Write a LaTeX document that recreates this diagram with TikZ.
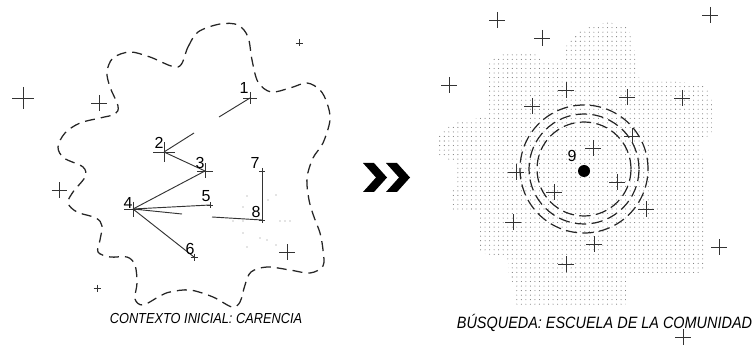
\documentclass[tikz,border=0pt]{standalone}
\usepackage{fontspec}
\setmainfont{Liberation Sans}
\newfontfamily\capfont[FakeStretch=0.88]{Liberation Sans}
\usetikzlibrary{patterns.meta}
\newcommand\plusmark[2]{\draw[crossline] (#1) +(-#2,0) -- +(#2,0) (#1) +(0,-#2) -- +(0,#2);}
\begin{document}
\begin{tikzpicture}[x=0.75pt,y=-0.75pt,
  crossline/.style={draw=black!80, line width=0.7pt},
  link/.style={draw=black!80, line width=0.7pt},
  blobline/.style={draw=black!85, line width=0.95pt, dash pattern=on 7.5pt off 4.5pt},
  ring/.style={draw=black!85, line width=0.9pt, dash pattern=on 8.5pt off 4pt},
  num/.style={font=\fontsize{12}{12}\selectfont, inner sep=0pt, text=black},
  capt/.style={inner sep=0pt, anchor=base, text=black},
  faint/.style={fill=black!45},
  chev/.style={fill=black, draw=none}]
\useasboundingbox (0,0) rectangle (755,345);

% ---------- left: dashed blob ----------
\draw[blobline] plot[smooth cycle, tension=0.55] coordinates {
 (178,67) (188,47) (198,32) (220,24) (238,25) (248,37) (252,60) (258,82)
 (271,92) (290,88) (307,83) (320,90) (327,103) (330,120) (323,143) (313,158)
 (307,178) (309,200) (314,217) (320,233) (323,250) (323,266) (310,273)
 (290,270) (267,267) (251,272) (245,285) (240,302) (232,307) (213,297)
 (190,290) (170,292) (160,296) (143,305) (135,299) (137,283) (135,265)
 (127,257) (110,257) (98,252) (100,240) (102,226) (96,218) (77,212)
 (68,203) (73,192) (85,177) (83,167) (64,158) (58,147) (65,133) (80,123)
 (100,118) (115,114) (118,106) (110,87) (107,72) (113,58) (130,52) (150,57)};

% free crosses on the left
\plusmark{23,98}{11}
\plusmark{99,103}{8}
\plusmark{299,43}{3.5}
\plusmark{59,190}{7.5}
\plusmark{97,288}{3.5}
\plusmark{287,252}{8}

% numbered points
\coordinate (p1) at (250,98);
\coordinate (p2) at (164,152);
\coordinate (p3) at (205,171);
\coordinate (p4) at (133,209);
\coordinate (p5) at (210,205);
\coordinate (p6) at (194,257);
\coordinate (p7) at (262,171);
\coordinate (p8) at (262,220);
\coordinate (e1) at (219,117);
\coordinate (e2) at (194,133);
\coordinate (e4) at (182,214);
\coordinate (e8) at (212,217);

\draw[crossline] (p1) +(-7,0) -- +(7,0) (p1) +(0,-6) -- +(0,6);
\draw[crossline] (p2) +(-11,0) -- +(11,0) (p2) +(0,-10) -- +(0,10);
\draw[crossline] (p3) +(-8,0) -- +(8,0) (p3) +(0,-7.5) -- +(0,7.5);
\draw[crossline] (p4) +(-9,0) -- +(9,0) (p4) +(0,-7.5) -- +(0,7.5);
\draw[crossline] (p5) +(-3,0) -- +(3,0) (p5) +(0,-3) -- +(0,3);
\draw[crossline] (p6) +(-3.5,0) -- +(3.5,0) (p6) +(0,-3.5) -- +(0,3.5);
\draw[crossline] (p7) +(-3,0) -- +(3,0) (p7) +(0,-3) -- +(0,3);
\draw[crossline] (p8) +(-3,0) -- +(3,0) (p8) +(0,-3) -- +(0,3);

\draw[link] (p1) -- (e1);
\draw[link] (p2) -- (e2);
\draw[link] (p2) -- (p3);
\draw[link] (p4) -- (p3);
\draw[link] (p4) -- (p5);
\draw[link] (p4) -- (e4);
\draw[link] (p4) -- (p6);
\draw[link] (p7) -- (p8);
\draw[link] (e8) -- (p8);

\node[num] (n1) at (244,88) {1};
\node[num] (n2) at (159,143) {2};
\node[num] (n3) at (200,163) {3};
\node[num] (n4) at (128,203) {4};
\node[num] (n5) at (206,196) {5};
\node[num] (n6) at (190,249) {6};
\node[num] (n7) at (255,163) {7};
\node[num] (n8) at (256,212) {8};

% faint dots around 8
\foreach \q in {(247,196),(268,200),(276,195),(243,207),(233,221),(243,221),
  (280,221),(285,221),(290,221),(243,233),(260,238),(267,240),(247,247),(276,245)}
  {\fill[faint] \q circle[radius=0.45pt];}

\node[capt, font=\capfont\itshape\fontsize{10.9}{12}\selectfont] (capL) at (206,323) {CONTEXTO INICIAL: CARENCIA};

% ---------- chevrons ----------
\fill[chev] (363,163) -- (374,163) -- (387,177.5) -- (374,192) -- (363,192) -- (376,177.5) -- cycle;
\fill[chev] (386,163) -- (397,163) -- (410,177.5) -- (397,192) -- (386,192) -- (399,177.5) -- cycle;

% ---------- right: stippled region ----------
\fill[pattern={Dots[distance=3.4pt, radius=0.4pt]}, pattern color=black!55, rounded corners=2.5pt]
 (488,63) -- (500,55) -- (515,52) -- (537,54) -- (545,62) -- (565,62) -- (567,42)
 -- (580,30) -- (607,22) -- (628,26) -- (633,40) -- (636,64) -- (640,82) -- (682,82)
 -- (707,86) -- (712,100) -- (712,134) -- (700,140) -- (703,160) -- (703,273)
 -- (626,275) -- (626,306) -- (515,305) -- (515,284) -- (508,278) -- (508,257)
 -- (478,253) -- (480,213) -- (450,210) -- (450,190) -- (456,188) -- (455,163)
 -- (438,155) -- (438,135) -- (445,127) -- (465,120) -- (488,117) -- cycle;

\coordinate (c9) at (584,169);
\draw[ring] (c9) circle[radius=48pt];
\draw[ring] (c9) circle[radius=41.25pt];
\draw[ring] (c9) circle[radius=35.25pt];

\foreach \q in {{497,20},{542,38},{710,15},{449,85},{566,90},{532,106},{627,97},
  {682,98},{632,136},{593,148},{516,172},{617,182},{554,192},{646,209},{513,222},
  {594,244},{566,264},{719,247},{683,337}}
  {\plusmark{\q}{8}}

\node[fill=black, circle, inner sep=0pt, minimum size=9pt] (d9) at (584,171) {};
\node[num] (n9) at (572,156) {9};

\node[capt, font=\capfont\itshape\fontsize{12.3}{13}\selectfont] (capR) at (604.5,328) {BÚSQUEDA: ESCUELA DE LA COMUNIDAD};
\end{tikzpicture}
\end{document}
